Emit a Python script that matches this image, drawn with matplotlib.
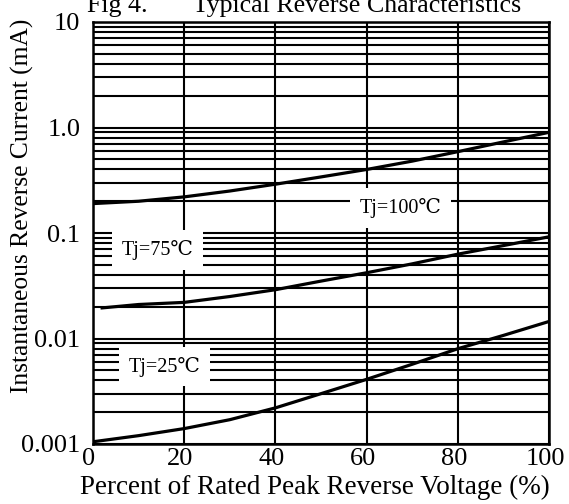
from matplotlib import pyplot as plt
from matplotlib.ticker import FixedLocator, NullFormatter
import matplotlib.transforms as mtransforms

plt.rcParams['font.family'] = ['Liberation Serif', 'DejaVu Serif']

# curve readings (percent of rated voltage -> reverse current, mA)
volts = [0, 10, 20, 30, 40, 50, 60, 70, 80, 90, 100]
tj100 = [0.19, 0.20, 0.22, 0.25, 0.29, 0.34, 0.40, 0.48, 0.59, 0.73, 0.90]
volts75 = [2, 10, 20, 30, 40, 50, 60, 70, 80, 90, 100]
tj75 = [0.0195, 0.021, 0.022, 0.025, 0.029, 0.035, 0.042, 0.051, 0.063, 0.076, 0.092]
tj25 = [0.00105, 0.0012, 0.0014, 0.0017, 0.0022, 0.0030, 0.0041, 0.0057, 0.0080, 0.0107, 0.0145]

yticks = [0.001, 0.01, 0.1, 1.0, 10]
ylabels = ['0.001', '0.01', '0.1', '1.0', '10']
xticks = [0, 20, 40, 60, 80, 100]

fig = plt.figure(figsize=(5.69, 5.04), dpi=100)
ax = fig.add_axes([93 / 569, 1 - 444 / 504, 456 / 569, 422 / 504])

ax.plot(volts, tj100, color='black', lw=2.3, zorder=3)
ax.plot(volts75, tj75, color='black', lw=2.3, zorder=3)
ax.plot(volts, tj25, color='black', lw=2.3, zorder=3)

ax.set_yscale('log')
ax.set_xlim(0, 100)
ax.set_ylim(0.001, 10)
ax.yaxis.set_major_locator(FixedLocator(yticks))
ax.set_yticklabels(ylabels)
minors = [m * 10.0 ** e for e in range(-3, 1) for m in range(2, 10)]
ax.yaxis.set_minor_locator(FixedLocator(minors))
ax.yaxis.set_minor_formatter(NullFormatter())
ax.set_xticks(xticks)
ax.grid(True, which='both', color='black', lw=1.5)
ax.tick_params(which='both', length=0, labelsize=19)
ax.tick_params(axis='y', pad=9)
ax.tick_params(axis='x', pad=3)
for s in ax.spines.values():
    s.set_linewidth(1.8)

# x tick labels sit a little left of their grid lines in the original
shift = mtransforms.ScaledTranslation(-4 / 100, 0, fig.dpi_scale_trans)
for lab in ax.get_xticklabels():
    lab.set_transform(lab.get_transform() + shift)

box = dict(facecolor='white', edgecolor='none', pad=7)
ax.text(67.5, 0.1726, 'Tj=100\u2103', fontsize=14.5, ha='center', va='center', bbox=box, zorder=4)
ax.text(14.2, 0.069, 'Tj=75\u2103', fontsize=14.5, ha='center', va='center', bbox=box, zorder=4)
ax.text(15.6, 0.0054, 'Tj=25\u2103', fontsize=14.5, ha='center', va='center', bbox=box, zorder=4)

ax.set_xlabel('Percent of Rated Peak Reverse Voltage (%)', fontsize=19.5)
ax.xaxis.set_label_coords((314.5 - 93) / 456, -(475 - 444) / 422)
ax.set_ylabel('Instantaneous Reverse Current (mA)', fontsize=18.4)
ax.yaxis.set_label_coords(-(93 - 34) / 456, (444 - 206) / 422)
fig.text(87 / 569, 1 - 12 / 504, 'Fig 4.       Typical Reverse Characteristics', fontsize=18.7,
         ha='left', va='baseline')

plt.savefig('out.png', dpi=100)
